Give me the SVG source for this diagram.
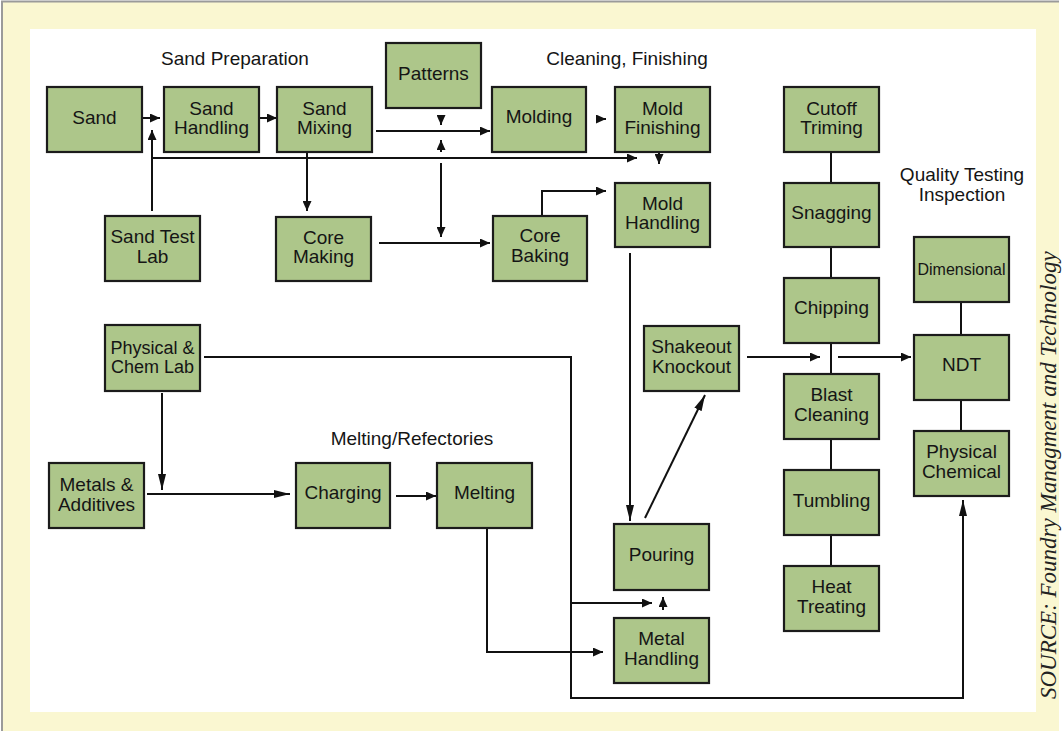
<svg xmlns="http://www.w3.org/2000/svg" width="1062" height="731" viewBox="0 0 1062 731">
  <style>
    .node rect { fill: #adc68a; stroke: #1b1b1b; stroke-width: 2.2; }
    .node text, .label { font-family: "Liberation Sans", Arial, sans-serif; font-size: 19px; fill: #151515; text-anchor: middle; }
    .conn path { fill: none; stroke: #111; stroke-width: 2; }
    .conn .arr { marker-end: url(#head); }
    .source { font-family: "Liberation Serif", "Times New Roman", serif; font-style: italic; font-size: 23px; fill: #222; }
  </style>
  <defs>
    <marker id="head" markerUnits="userSpaceOnUse" markerWidth="10" markerHeight="9" viewBox="0 0 10 9" refX="10" refY="4.5" orient="auto">
      <path d="M0,0 L10,4.5 L0,9 z" fill="#111"/>
    </marker>
    <marker id="headSlim" markerUnits="userSpaceOnUse" markerWidth="16" markerHeight="8" viewBox="0 0 16 8" refX="16" refY="4" orient="auto">
      <path d="M0,0 L16,4 L0,8 z" fill="#111"/>
    </marker>
  </defs>

  <!-- page frame -->
  <rect x="2" y="2" width="1057" height="729" fill="#faf7d1"/>
  <path d="M2,731 V1.5 H1059" fill="none" stroke="#9a9a9a" stroke-width="2"/>
  <rect x="30" y="29" width="1006" height="683" fill="#ffffff"/>

  <!-- section headings -->
  <text class="label" x="235" y="65">Sand Preparation</text>
  <text class="label" x="627" y="65">Cleaning, Finishing</text>
  <text class="label" x="962" y="181">Quality Testing</text>
  <text class="label" x="962" y="201">Inspection</text>
  <text class="label" x="412" y="445">Melting/Refectories</text>

  <!-- connectors -->
  <g id="connectors" class="conn">
    <path class="arr" d="M142,118 H160"/>
    <path class="arr" d="M259,118 H277"/>
    <path class="arr" d="M152,211 V130"/>
    <path class="arr" d="M152,158 H637"/>
    <path class="arr" d="M307,152 V211"/>
    <path class="arr" d="M376,131 H490"/>
    <path class="arr" d="M441,117 V125"/>
    <path class="arr" d="M441,152 V140"/>
    <path class="arr" d="M441,163 V237"/>
    <path class="arr" d="M379,243 H490"/>
    <path class="arr" d="M542,216 V191 H606"/>
    <path class="arr" d="M597,119 H606"/>
    <path class="arr" d="M659,152 V164"/>
    <path class="arr" d="M630,253 V521" style="marker-end:url(#headSlim)"/>
    <path class="arr" d="M645,518 L705,395" style="marker-end:url(#headSlim)"/>
    <path class="arr" d="M747,357 H820"/>
    <path d="M831,151 V183 M831,247 V278 M831,343 V374 M831,439 V470 M831,535 V566"/>
    <path class="arr" d="M838,357 H911"/>
    <path d="M961,302 V335 M961,400 V431"/>
    <path class="arr" d="M204,357 H571 V698 H963 V500" style="marker-end:url(#headSlim)"/>
    <path class="arr" d="M571,603 H652"/>
    <path class="arr" d="M663,610 V597"/>
    <path class="arr" d="M487,528 V652 H603"/>
    <path class="arr" d="M162,393 V490" style="marker-end:url(#headSlim)"/>
    <path class="arr" d="M147,494 H290" style="marker-end:url(#headSlim)"/>
    <path class="arr" d="M396,496 H436"/>
  </g>

  <!-- nodes -->
  <g id="sand" class="node"><rect x="47" y="87" width="95" height="65"/><text x="94.5" y="123.5">Sand</text></g>
  <g id="sand-handling" class="node"><rect x="164" y="87" width="95" height="65"/><text x="211.5" y="114.5">Sand</text><text x="211.5" y="134">Handling</text></g>
  <g id="sand-mixing" class="node"><rect x="277" y="87" width="95" height="65"/><text x="324.5" y="114.5">Sand</text><text x="324.5" y="134">Mixing</text></g>
  <g id="patterns" class="node"><rect x="386" y="43" width="95" height="65"/><text x="433.5" y="80">Patterns</text></g>
  <g id="molding" class="node"><rect x="492" y="87" width="94" height="65"/><text x="539" y="122.5">Molding</text></g>
  <g id="mold-finishing" class="node"><rect x="615" y="87" width="95" height="65"/><text x="662.5" y="114.5">Mold</text><text x="662.5" y="134">Finishing</text></g>
  <g id="cutoff-triming" class="node"><rect x="784" y="87" width="95" height="65"/><text x="831.5" y="114.5">Cutoff</text><text x="831.5" y="134">Triming</text></g>
  <g id="sand-test-lab" class="node"><rect x="105" y="216" width="95" height="65"/><text x="152.5" y="243">Sand Test</text><text x="152.5" y="262.5">Lab</text></g>
  <g id="core-making" class="node"><rect x="276" y="217" width="95" height="64"/><text x="323.5" y="243.5">Core</text><text x="323.5" y="263">Making</text></g>
  <g id="core-baking" class="node"><rect x="493" y="216" width="94" height="65"/><text x="540" y="242">Core</text><text x="540" y="261.5">Baking</text></g>
  <g id="mold-handling" class="node"><rect x="615" y="183" width="95" height="64"/><text x="662.5" y="209.5">Mold</text><text x="662.5" y="229">Handling</text></g>
  <g id="snagging" class="node"><rect x="784" y="183" width="95" height="64"/><text x="831.5" y="218.5">Snagging</text></g>
  <g id="chipping" class="node"><rect x="784" y="278" width="95" height="65"/><text x="831.5" y="314">Chipping</text></g>
  <g id="dimensional" class="node"><rect x="914" y="237" width="95" height="65"/><text x="961.5" y="275" style="font-size:16px">Dimensional</text></g>
  <g id="physical-chem-lab" class="node"><rect x="105" y="325" width="95" height="66"/><text x="152.5" y="354" style="font-size:18px">Physical &amp;</text><text x="152.5" y="373" style="font-size:18px">Chem Lab</text></g>
  <g id="shakeout-knockout" class="node"><rect x="644" y="326" width="95" height="65"/><text x="691.5" y="353">Shakeout</text><text x="691.5" y="372.5">Knockout</text></g>
  <g id="ndt" class="node"><rect x="914" y="335" width="95" height="65"/><text x="961.5" y="371">NDT</text></g>
  <g id="blast-cleaning" class="node"><rect x="784" y="374" width="95" height="65"/><text x="831.5" y="401">Blast</text><text x="831.5" y="420.5">Cleaning</text></g>
  <g id="metals-additives" class="node"><rect x="49" y="463" width="95" height="65"/><text x="96.5" y="491">Metals &amp;</text><text x="96.5" y="510.5">Additives</text></g>
  <g id="charging" class="node"><rect x="296" y="463" width="94" height="65"/><text x="343" y="499">Charging</text></g>
  <g id="melting" class="node"><rect x="437" y="463" width="95" height="65"/><text x="484.5" y="499">Melting</text></g>
  <g id="physical-chemical" class="node"><rect x="914" y="431" width="95" height="65"/><text x="961.5" y="458">Physical</text><text x="961.5" y="477.5">Chemical</text></g>
  <g id="tumbling" class="node"><rect x="784" y="470" width="95" height="65"/><text x="831.5" y="507">Tumbling</text></g>
  <g id="pouring" class="node"><rect x="614" y="524" width="95" height="66"/><text x="661.5" y="561">Pouring</text></g>
  <g id="heat-treating" class="node"><rect x="784" y="566" width="95" height="65"/><text x="831.5" y="593">Heat</text><text x="831.5" y="612.5">Treating</text></g>
  <g id="metal-handling" class="node"><rect x="614" y="618" width="95" height="65"/><text x="661.5" y="645">Metal</text><text x="661.5" y="664.5">Handling</text></g>

  <!-- source credit along the right margin -->
  <text class="source" transform="translate(1056,699) rotate(-90)">SOURCE: Foundry Managment and Technology</text>
</svg>
